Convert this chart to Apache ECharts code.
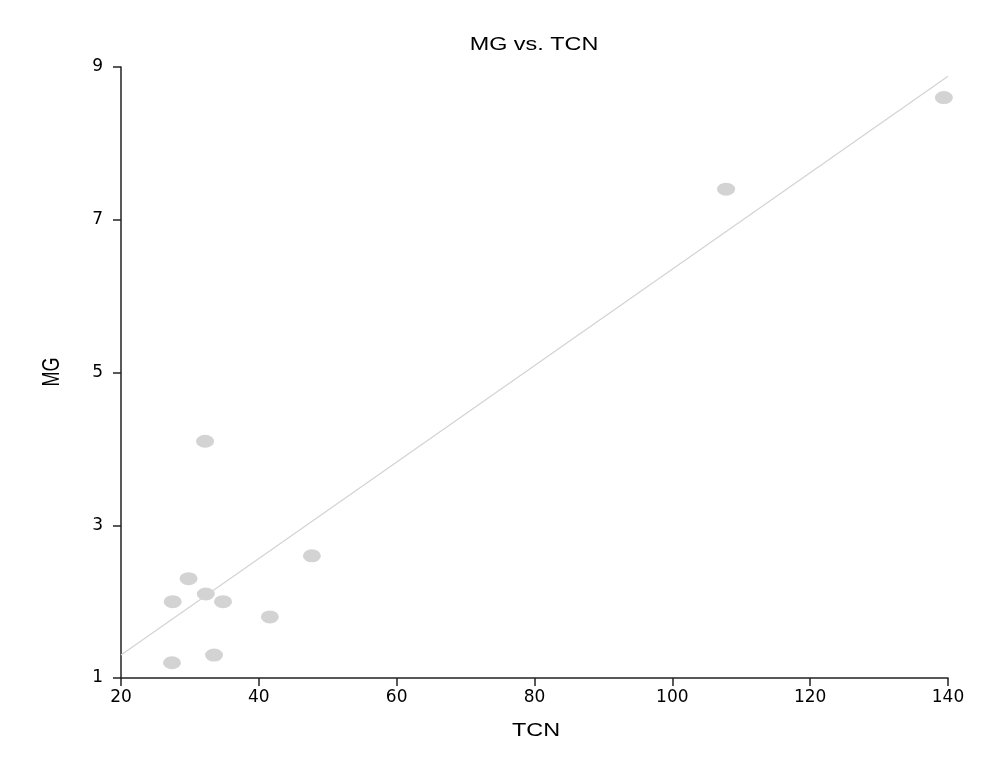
<!DOCTYPE html>
<html>
<head>
<meta charset="utf-8">
<script src="https://cdn.jsdelivr.net/npm/echarts@6/dist/echarts.min.js"></script>
<style>
  html, body { margin: 0; padding: 0; background: #fff; }
  #chart { width: 990px; height: 760px; }
</style>
</head>
<body>
<div id="chart"></div>
<script>
const tcn = [32.2, 47.7, 29.8, 32.3, 27.5, 34.8, 41.6, 33.5, 27.4, 107.8, 139.4];
const mg = [4.1, 2.6, 2.3, 2.1, 2.0, 2.0, 1.8, 1.3, 1.2, 7.4, 8.6];
const xRange = [20, 140];

// least squares fit, drawn across the x range
const n = tcn.length;
const mx = tcn.reduce((a, b) => a + b, 0) / n;
const my = mg.reduce((a, b) => a + b, 0) / n;
let sxy = 0, sxx = 0;
tcn.forEach((x, i) => { sxy += (x - mx) * (mg[i] - my); sxx += (x - mx) * (x - mx); });
const slope = sxy / sxx;
const intercept = my - slope * mx;
const fitLine = xRange.map(x => [x, intercept + slope * x]);

const chart = echarts.init(document.getElementById('chart'));
const font = '"Liberation Sans", Arial, sans-serif';
const tickFont = '"DejaVu Sans", sans-serif';
// the reference text is drawn a bit wide, so stretch it
const wideText = (text, x, y, extra) => Object.assign({
  type: 'text',
  x: x,
  y: y,
  scaleX: 1.3,
  style: { text: text, font: '18px ' + font, fill: '#000', align: 'center', verticalAlign: 'middle' }
}, extra || {});

const option = {
  animation: false,
  textStyle: { fontFamily: font },
  graphic: [
    wideText('MG vs. TCN', 534, 45),
    wideText('TCN', 536, 731),
    wideText('MG', 53, 372, { scaleX: 1, scaleY: 1.3, rotation: Math.PI / 2 })
  ],
  grid: { left: 121, right: 42, top: 67, bottom: 82 },
  xAxis: {
    type: 'value',
    min: 20,
    max: 140,
    interval: 20,
    axisLine: { show: true, onZero: false, lineStyle: { color: '#222', width: 1.5 } },
    axisTick: { show: true, length: 8, lineStyle: { color: '#222', width: 1.5 } },
    axisLabel: { fontSize: 17, fontFamily: tickFont, color: '#000', margin: 11 },
    splitLine: { show: false }
  },
  yAxis: {
    type: 'value',
    min: 1,
    max: 9,
    interval: 2,
    axisLine: { show: true, onZero: false, lineStyle: { color: '#222', width: 1.5 } },
    axisTick: { show: true, length: 8, lineStyle: { color: '#222', width: 1.5 } },
    axisLabel: { fontSize: 17, fontFamily: tickFont, color: '#000', margin: 18 },
    splitLine: { show: false }
  },
  series: [
    {
      type: 'line',
      data: fitLine,
      showSymbol: false,
      symbol: 'none',
      lineStyle: { color: '#d3d3d3', width: 1.2 },
      z: 1
    },
    {
      type: 'scatter',
      data: tcn.map((x, i) => [x, mg[i]]),
      symbol: 'circle',
      symbolSize: [18, 13],
      itemStyle: { color: '#d3d3d3', opacity: 1 },
      z: 2
    }
  ]
};
chart.setOption(option);
</script>
</body>
</html>
